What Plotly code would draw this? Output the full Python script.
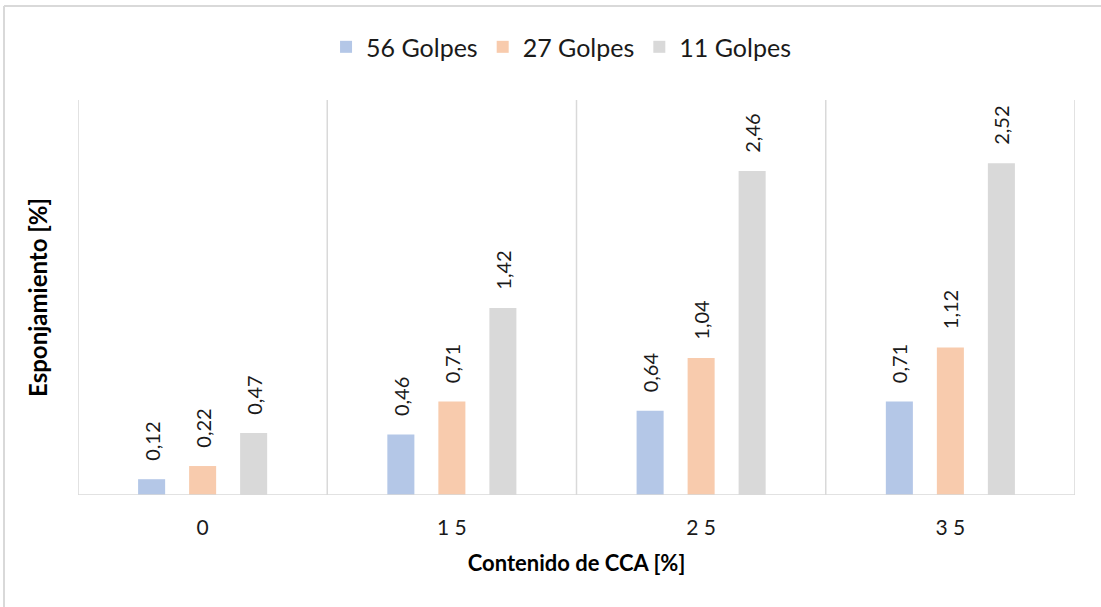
import plotly.graph_objects as go

# Contenido de CCA [%] per group and swelling values per compaction energy
categorias = ["0", "1 5", "2 5", "3 5"]
golpes_56 = [0.12, 0.46, 0.64, 0.71]
golpes_27 = [0.22, 0.71, 1.04, 1.12]
golpes_11 = [0.47, 1.42, 2.46, 2.52]

series = [
    ("56 Golpes", golpes_56, "#b4c7e7"),
    ("27 Golpes", golpes_27, "#f8cbad"),
    ("11 Golpes", golpes_11, "#d9d9d9"),
]

FONT = "Lato, Carlito, 'Open Sans', sans-serif"
GRID = "#d9d9d9"
pos = list(range(len(categorias)))

fig = go.Figure()
for nombre, valores, color in series:
    fig.add_trace(go.Bar(
        name=nombre,
        x=pos,
        y=valores,
        marker=dict(color=color, line=dict(width=0)),
        text=["\u00a0\u00a0\u00a0" + f"{v:.2f}".replace(".", ",") for v in valores],
        textposition="outside",
        textangle=-90,
        constraintext="none",
        textfont=dict(family=FONT, size=20, color="#1a1a1a"),
        cliponaxis=False,
    ))

# separators between category groups, plus the plot frame
shapes = []
for i in range(len(categorias) + 1):
    shapes.append(dict(type="line", xref="x", yref="y",
                       x0=i - 0.5, x1=i - 0.5, y0=0, y1=3,
                       line=dict(color=GRID, width=1.5)))
shapes.append(dict(type="line", xref="x", yref="y",
                   x0=-0.5, x1=len(categorias) - 0.5, y0=0, y1=0,
                   line=dict(color=GRID, width=1.5)))
# outer chart border (top and left)
shapes.append(dict(type="line", xref="paper", yref="paper",
                   x0=-0.0742, x1=1.1, y0=1.238, y1=1.238,
                   line=dict(color=GRID, width=2)))
shapes.append(dict(type="line", xref="paper", yref="paper",
                   x0=-0.0742, x1=-0.0742, y0=1.238, y1=-0.4,
                   line=dict(color=GRID, width=2)))

fig.update_layout(
    width=1101, height=607,
    margin=dict(l=78, r=26, t=100, b=112, autoexpand=False),
    paper_bgcolor="white", plot_bgcolor="white",
    separators=",.",
    barmode="group", bargap=0.386, bargroupgap=0.47,
    shapes=shapes,
    font=dict(family=FONT, color="#1a1a1a"),
    showlegend=True,
    legend=dict(orientation="h", x=0.4845, xanchor="center", y=1.134, yanchor="middle",
                font=dict(family=FONT, size=25, color="#1a1a1a"),
                itemsizing="constant"),
    xaxis=dict(range=[-0.5, len(categorias) - 0.5], tickmode="array",
               tickvals=pos, ticktext=categorias, showgrid=False, zeroline=False,
               showline=False, ticks="", ticklabelstandoff=18,
               tickfont=dict(family=FONT, size=21, color="#1a1a1a"),
               title=dict(text="<b>Contenido de CCA [%]</b>", standoff=17,
                          font=dict(family=FONT, size=22, color="#000000"))),
    yaxis=dict(range=[0, 3], showgrid=False, zeroline=False, showline=False,
               showticklabels=False, ticks="",
               title=dict(text="<b>Esponjamiento [%]</b>", standoff=22,
                          font=dict(family=FONT, size=24, color="#000000"))),
)

fig.write_html("out.html")
